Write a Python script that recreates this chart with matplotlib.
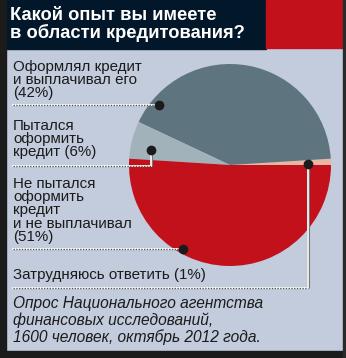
import matplotlib.pyplot as plt
import numpy as np
from matplotlib.patches import Rectangle

# data
labels = ["Затрудняюсь ответить (1%)",
          "Оформлял кредит\nи выплачивал его\n(42%)",
          "Пытался\nоформить\nкредит (6%)",
          "Не пытался\nоформить\nкредит\nи не выплачивал\n(51%)"]
shares = [1, 42, 6, 51]
colors = ["#ebb6a0", "#5e7580", "#a1b2ba", "#c3111b"]
title = "Какой опыт вы имеете\nв области кредитования?"
source = "Опрос Национального агентства\nфинансовых исследований,\n1600 человек, октябрь 2012 года."

W, H = 346, 358
BG = "#c2ccdc"
NAVY = "#02172a"

fig = plt.figure(figsize=(W / 100, H / 100), dpi=100)
fig.patch.set_facecolor(BG)

# background / frame in pixel coords
bg = fig.add_axes([0, 0, 1, 1])
bg.set_xlim(0, W); bg.set_ylim(H, 0); bg.axis("off")
bg.add_patch(Rectangle((0, 0), W, H, color=BG))
bg.add_patch(Rectangle((0, 0), 266, 49, color=NAVY))
bg.add_patch(Rectangle((266, 0), 77, 48, color="#c3111b"))
bg.add_patch(Rectangle((0, 0), 6, H, color="#1b1b1b"))
bg.add_patch(Rectangle((0, 351), W, 7, color="#1b1b1b"))
bg.add_patch(Rectangle((343, 0), 3, H, color="#2a2a2a"))

# pie, center (230,165), radius 101 px
cx, cy, r = 230, 165, 101
pax = fig.add_axes([(cx - r) / W, (H - cy - r) / H, 2 * r / W, 2 * r / H])
pax.pie(shares, colors=colors, startangle=0, counterclock=True,
        wedgeprops=dict(linewidth=0))
pax.set_xlim(-1, 1); pax.set_ylim(-1, 1)

# overlay for leaders and text
ax = fig.add_axes([0, 0, 1, 1])
ax.set_xlim(0, W); ax.set_ylim(H, 0); ax.axis("off")
ax.patch.set_alpha(0)

def to_px(ang, rad):
    p = pax.transData.transform((rad * np.cos(np.radians(ang)), rad * np.sin(np.radians(ang))))
    return ax.transData.inverted().transform(p)

# (angle, radius) of dot, y of leader, label top
anchors = [(1, 0.77), (140, 0.92), (169, 0.80), (241, 0.95)]
leader_y = [288, 105, 166, 249]
label_y = [268, 60, 119, 177]

def leader(x0, y0, ly):
    if abs(ly - y0) > 2:
        ax.plot([x0, x0], [y0, ly], color="#777777", lw=2.2, solid_capstyle="butt", zorder=3)
        ax.plot([x0, x0], [y0, ly], color="white", lw=1.2, solid_capstyle="butt", zorder=3)
    ax.plot([13, x0], [ly, ly], color="white", lw=1.3, zorder=3)
    ax.plot([13, x0], [ly, ly], color="#555555", lw=1.0, ls=(0, (1, 1)), zorder=3)
    ax.plot(x0, y0, "o", color="#1b1b1b", ms=6, zorder=4)

font = "Liberation Sans"
for lab, (a, rr), ly, ty in zip(labels, anchors, leader_y, label_y):
    x0, y0 = to_px(a, rr)
    leader(x0, y0, ly)
    ax.text(13, ty, lab, ha="left", va="top", fontsize=10.9, family=font,
            color="#1b1b1b", linespacing=0.93)

ax.text(10, 7, title, ha="left", va="top", fontsize=13.2, family=font,
        fontweight="bold", color="white", linespacing=1.0)
ax.text(13, 296, source, ha="left", va="top", fontsize=11.2, family=font,
        style="italic", color="#1b1b1b", linespacing=1.1)

fig.savefig("out.png", dpi=100, facecolor=BG)
